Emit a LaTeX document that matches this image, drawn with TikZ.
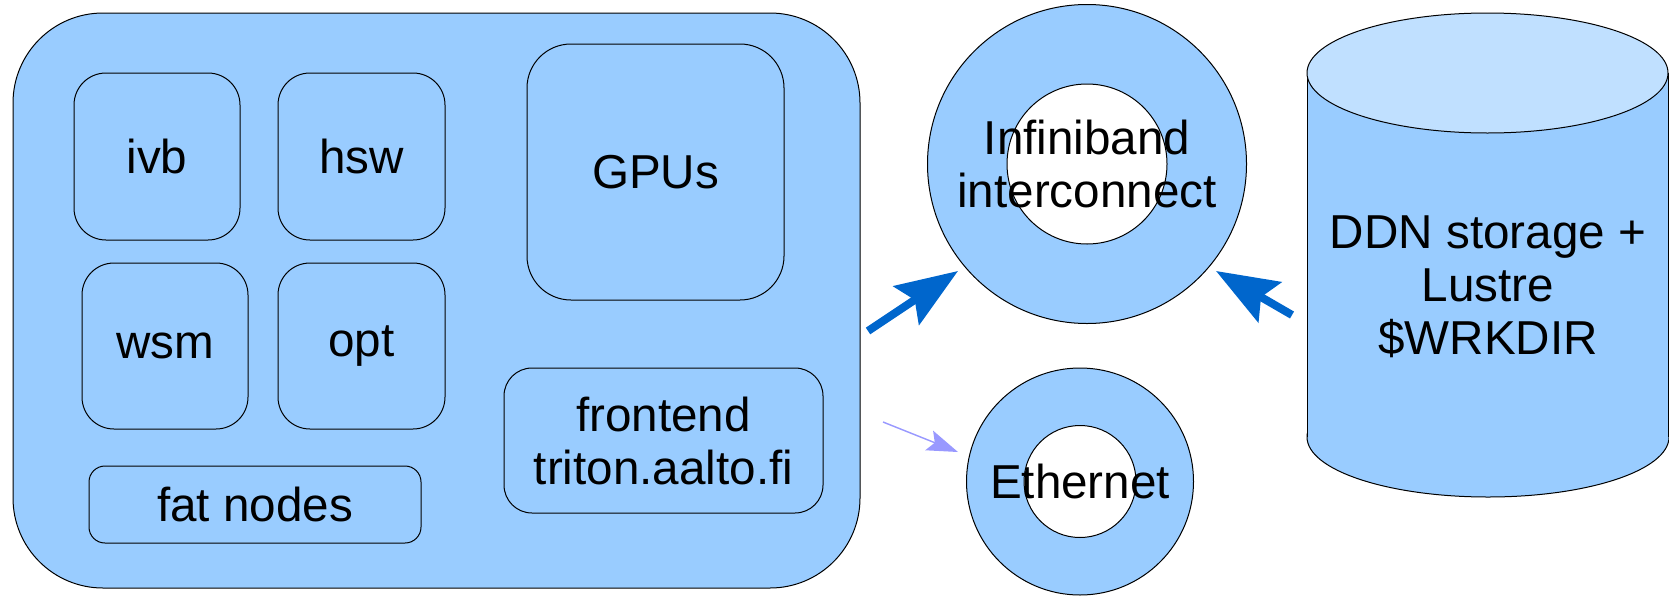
\documentclass[tikz,border=0pt]{standalone}
\usepackage{fontspec}
\setmainfont{Liberation Sans}
\usetikzlibrary{arrows.meta}
\definecolor{boxblue}{HTML}{99CCFF}
\definecolor{topblue}{HTML}{C0E0FF}
\definecolor{linkblue}{HTML}{0066CC}
\definecolor{ethblue}{HTML}{9999FF}
\tikzset{
  box/.style={draw, fill=boxblue, line width=0.5pt, inner sep=0pt, align=center, rounded corners=16pt},
  ring/.style={draw, fill=boxblue, circle, line width=0.5pt, inner sep=0pt},
  hole/.style={draw, fill=white, circle, line width=0.5pt, inner sep=0pt},
  biglink/.style={linkblue, line width=4pt, -{Stealth[length=31pt, width=23pt, inset=5pt]}},
  thinlink/.style={ethblue, line width=0.7pt, -{Stealth[length=15.5pt, width=10.5pt, inset=3pt]}}
}
\begin{document}
\begin{tikzpicture}[x=0.5pt, y=-0.5pt, font=\fontsize{23.8}{26.5}\selectfont]
            \useasboundingbox (0,0) rectangle (1669,595);
            % Cluster
            \node[box, rounded corners=45pt, minimum width=423.5pt, minimum height=287.5pt] (cluster) at (436.5,300.5) {};
            \node[box, minimum width=83pt, minimum height=83.5pt] (ivb) at (157,156.5) {ivb};
            \node[box, minimum width=83.5pt, minimum height=83.5pt] (hsw) at (361.5,156.5) {hsw};
            \node[box, minimum width=83pt, minimum height=83pt] (wsm) at (165,346) {wsm};
            \node[box, minimum width=83.5pt, minimum height=83pt] (opt) at (361.5,346) {opt};
            \node[box, rounded corners=8pt, minimum width=166pt, minimum height=38.5pt] (fat) at (255,504.5) {fat nodes};
            \node[box, rounded corners=22pt, minimum width=128.5pt, minimum height=128pt] (gpus) at (655.5,172) {GPUs};
            \node[box, rounded corners=14pt, minimum width=159.5pt, minimum height=72.5pt] (frontend) at (663.5,440.5) {frontend\\triton.aalto.fi};
            % Infiniband
            \node[ring, minimum size=159.5pt] (ibouter) at (1087,164) {};
            \node[hole, minimum size=80pt] (ibinner) at (1087,164) {};
            \node[align=center, inner sep=0pt] (ib) at (1087,164) {Infiniband\\interconnect};
            % Ethernet
            \node[ring, minimum size=113.5pt] (ethouter) at (1080,481.5) {};
            \node[hole, minimum size=56pt] (ethinner) at (1080,481.5) {};
            \node[inner sep=0pt] (eth) at (1080,481) {Ethernet};
            % Storage
            \draw[fill=boxblue, line width=0.5pt] (1488,437) ellipse [x radius=181, y radius=60];
            \fill[boxblue] (1307,73) rectangle (1668,437);
            \draw[line width=0.5pt] (1307,73) -- (1307,437);
            \draw[line width=0.5pt] (1668,73) -- (1668,437);
            \draw[fill=topblue, line width=0.5pt] (1487.5,73) ellipse [x radius=180.5, y radius=60];
            \node[align=center, inner sep=0pt] (storage) at (1488,287) {DDN storage +\\Lustre\\\$WRKDIR};
            % Links
            \coordinate (ibfrom) at (868,331);
            \coordinate (ibto) at (958,271);
            \coordinate (stfrom) at (1292,315);
            \coordinate (stto) at (1216,271);
            \coordinate (ethfrom) at (883,422);
            \coordinate (ethto) at (958,452);
            \draw[biglink] (ibfrom) -- (ibto);
            \draw[biglink] (stfrom) -- (stto);
            \draw[thinlink] (ethfrom) -- (ethto);
\end{tikzpicture}
\end{document}
